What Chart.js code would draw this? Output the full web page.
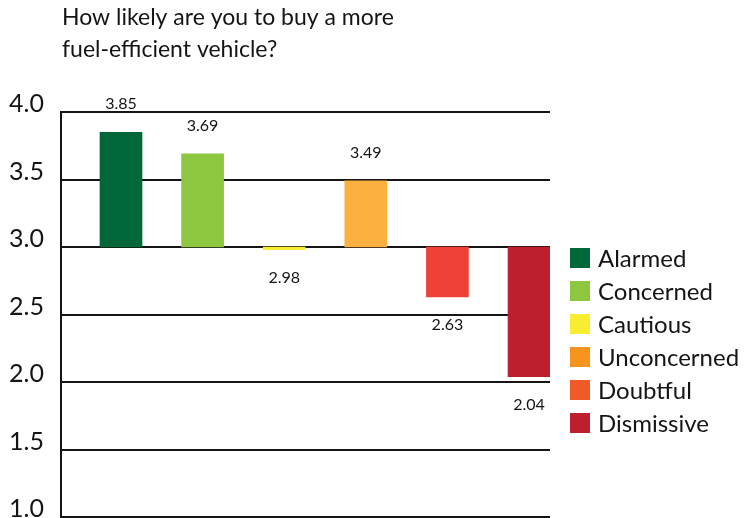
<!DOCTYPE html>
<html>
<head>
<meta charset="utf-8">
<script src="https://cdn.jsdelivr.net/npm/chart.js@4.4.1/dist/chart.umd.min.js"></script>
<style>
  html, body { margin: 0; padding: 0; background: #fff; }
  canvas { display: block; }
</style>
</head>
<body>
<canvas id="chart" width="748" height="518"></canvas>
<script>
const titleLines = ['How likely are you to buy a more', 'fuel-efficient vehicle?'];
const segments = ['Alarmed', 'Concerned', 'Cautious', 'Unconcerned', 'Doubtful', 'Dismissive'];
const scores = [3.85, 3.69, 2.98, 3.49, 2.63, 2.04];
const midpoint = 3.0;
const yTicks = [1.0, 1.5, 2.0, 2.5, 3.0, 3.5, 4.0];
const barColors = ['#006838', '#8dc63f', '#f9ed32', '#fbb040', '#ef4136', '#be1e2d'];
const legendColors = ['#006838', '#8dc63f', '#f9ed32', '#f7941d', '#f15a29', '#be1e2d'];

const FONT = 'Lato, "DejaVu Sans", sans-serif';
const INK = '#151515';

// title, value labels and the legend column on the right
const decor = {
  id: 'decor',
  afterDatasetsDraw(chart) {
    const ctx = chart.ctx;
    const area = chart.chartArea;
    const y = chart.scales.y;
    ctx.save();

    ctx.fillStyle = INK;
    ctx.textAlign = 'left';
    ctx.textBaseline = 'alphabetic';
    ctx.font = '23px ' + FONT;
    titleLines.forEach((line, i) => ctx.fillText(line, area.left + 1, 25 + i * 32));

    // value above bars that rise from the midpoint, below those that drop
    ctx.font = '16px ' + FONT;
    ctx.textAlign = 'center';
    ctx.textBaseline = 'middle';
    chart.getDatasetMeta(0).data.forEach((bar, i) => {
      const up = scores[i] >= midpoint;
      ctx.fillText(scores[i].toFixed(2), bar.x, y.getPixelForValue(scores[i]) + (up ? -28 : 28));
    });

    ctx.font = '24px ' + FONT;
    ctx.textAlign = 'left';
    segments.forEach((name, i) => {
      const top = 248 + i * 33;
      ctx.fillStyle = legendColors[i];
      ctx.fillRect(area.right + 20, top, 20, 20);
      ctx.fillStyle = INK;
      ctx.fillText(name, area.right + 48, top + 11);
    });
    ctx.restore();
  }
};

new Chart(document.getElementById('chart'), {
  type: 'bar',
  data: {
    datasets: [{
      data: segments.map((s, i) => ({ x: i, y: [midpoint, scores[i]] })),
      backgroundColor: barColors,
      borderWidth: 0,
      barThickness: 42
    }]
  },
  options: {
    responsive: false,
    animation: false,
    events: [],
    layout: { padding: { top: 112, right: 198, bottom: 1, left: 0 } },
    plugins: {
      legend: { display: false },
      tooltip: { enabled: false }
    },
    scales: {
      x: {
        type: 'linear',
        display: false,
        offset: false,
        min: -0.735,
        max: 5.257
      },
      y: {
        min: yTicks[0],
        max: yTicks[yTicks.length - 1],
        afterFit: scale => { scale.width = 61; scale.paddingBottom = 0; },
        afterBuildTicks: scale => { scale.ticks = yTicks.map(v => ({ value: v })); },
        grid: { color: INK, lineWidth: 2, drawTicks: false },
        border: { display: true, color: INK, width: 2 },
        ticks: {
          padding: 17,
          labelOffset: -8,
          color: INK,
          font: { family: FONT, size: 25, lineHeight: 0.4 },
          callback: v => Number(v).toFixed(1)
        }
      }
    }
  },
  plugins: [decor]
});
</script>
</body>
</html>
